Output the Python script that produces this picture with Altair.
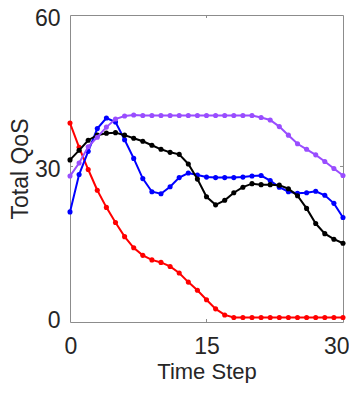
import altair as alt
import pandas as pd

steps = list(range(31))

red = [38.6, 33.8, 29.4, 25.3, 21.9, 18.9, 16.1, 13.9, 12.4, 11.5, 11.0, 10.2, 8.9, 7.1, 5.5, 3.6,
       1.8, 0.6, 0.1, 0.1, 0.1, 0.1, 0.1, 0.1, 0.1, 0.1, 0.1, 0.1, 0.1, 0.1, 0.1]
blue = [21.0, 28.4, 33.0, 37.5, 39.6, 38.8, 35.3, 31.6, 27.6, 25.0, 24.6, 26.0, 27.8, 28.7, 28.3, 27.9,
        27.8, 27.8, 27.8, 27.9, 28.1, 28.2, 27.2, 25.9, 25.0, 24.7, 24.8, 25.1, 24.3, 22.7, 19.9]
black = [31.3, 33.2, 35.2, 36.2, 36.6, 36.7, 36.2, 35.6, 35.0, 34.2, 33.4, 32.8, 32.4, 30.5, 27.5, 24.0,
         22.4, 23.3, 24.8, 25.9, 26.6, 26.4, 26.4, 26.3, 25.6, 24.2, 21.7, 18.7, 16.7, 15.6, 14.8]
purple = [28.1, 30.7, 33.9, 35.8, 37.8, 39.4, 40.0, 40.2, 40.1, 40.1, 40.1, 40.1, 40.1, 40.1, 40.1, 40.1,
          40.1, 40.1, 40.1, 40.1, 40.1, 39.7, 39.2, 37.9, 36.2, 34.5, 33.4, 32.3, 31.0, 29.6, 28.2]

series_values = [red, blue, black, purple]
series_colors = ["#ff0000", "#0000ff", "#000000", "#994dff"]

x_ticks = [0, 15, 30]
y_ticks = [0, 30, 60]
x_inner_ticks = [15]
y_inner_ticks = [30]

W, H = 273, 307
TEXT = "#262626"
BOX = "#8c8c8c"

x_scale = alt.Scale(domain=[0, 30], nice=False, zero=False)
y_scale = alt.Scale(domain=[-0.8, 60], nice=False, zero=False)

x_axis = alt.Axis(values=x_ticks, title="Time Step", grid=False, domain=False, ticks=False, tickSize=0,
                  labelPadding=13, labelFontSize=23, labelFlush=True, labelFlushOffset=6,
                  labelColor=TEXT,
                  titleFontSize=22, titleFontWeight="normal", titleColor=TEXT,
                  titleBaseline="alphabetic", titleY=56.5, labelOverlap=False)
y_axis = alt.Axis(values=y_ticks, title="Total QoS", grid=False, domain=False, ticks=False, tickSize=0,
                  labelPadding=10, labelFontSize=23, labelFlush=False, labelColor=TEXT, labelOffset=3,
                  titleFontSize=23, titleFontWeight="normal", titleColor=TEXT,
                  titleAngle=270, titleBaseline="alphabetic", titleX=-43, titleY=H / 2,
                  titleAlign="center", labelOverlap=False)

X = alt.X("step:Q", scale=x_scale, axis=x_axis)
Y = alt.Y("qos:Q", scale=y_scale, axis=y_axis)

layers = []
for vals, col in zip(series_values, series_colors):
    df = pd.DataFrame({"step": steps, "qos": vals})
    layers.append(
        alt.Chart(df).mark_line(
            color=col, strokeWidth=2,
            point=alt.OverlayMarkDef(filled=True, size=26, color=col, opacity=1)
        ).encode(x=X, y=Y)
    )

# small inward ticks (MATLAB style)
xt = pd.DataFrame({"step": x_inner_ticks})
yt = pd.DataFrame({"qos": y_inner_ticks})
tick_len = 3
layers.append(alt.Chart(xt).mark_rule(color=BOX, strokeWidth=1).encode(
    x=X, y=alt.value(H), y2=alt.value(H - tick_len)))
layers.append(alt.Chart(xt).mark_rule(color=BOX, strokeWidth=1).encode(
    x=X, y=alt.value(0), y2=alt.value(tick_len)))
layers.append(alt.Chart(yt).mark_rule(color=BOX, strokeWidth=1).encode(
    y=Y, x=alt.value(0), x2=alt.value(tick_len)))
layers.append(alt.Chart(yt).mark_rule(color=BOX, strokeWidth=1).encode(
    y=Y, x=alt.value(W), x2=alt.value(W - tick_len)))

chart = alt.layer(*layers).properties(
    width=W, height=H,
    autosize=alt.AutoSizeParams(type="none"),
    padding={"left": 62, "top": 7, "right": 6, "bottom": 61},
    background="white",
).configure(
    font="Liberation Sans"
).configure_view(
    stroke=BOX, strokeWidth=1
)

chart.save("out.html", embed_options={"renderer": "svg", "actions": False})
